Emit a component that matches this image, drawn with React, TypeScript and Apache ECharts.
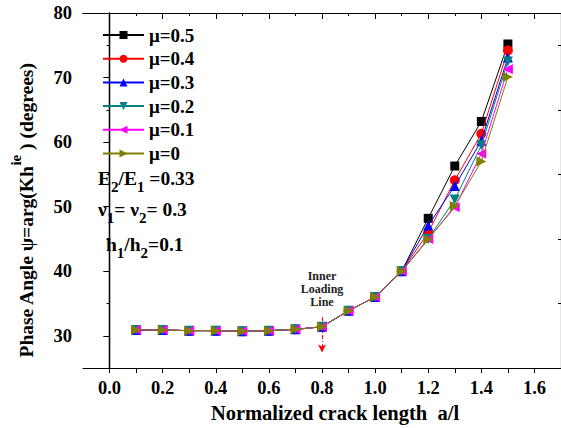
import React, { useEffect, useRef } from "react";
import * as echarts from "echarts";

const xValues = [0.1, 0.2, 0.3, 0.4, 0.5, 0.6, 0.7, 0.8, 0.9, 1.0, 1.1, 1.2, 1.3, 1.4, 1.5];
const mu05 = [30.9, 30.9, 30.8, 30.8, 30.7, 30.8, 31.0, 31.4, 33.9, 36.0, 40.0, 48.2, 56.3, 63.2, 75.2];
const mu04 = [30.9, 30.9, 30.8, 30.8, 30.7, 30.8, 31.0, 31.4, 33.9, 36.0, 40.0, 46.0, 54.1, 61.3, 74.2];
const mu03 = [30.9, 30.9, 30.8, 30.8, 30.7, 30.8, 31.0, 31.4, 33.9, 36.0, 40.0, 47.1, 53.2, 60.2, 73.1];
const mu02 = [30.9, 30.9, 30.8, 30.8, 30.7, 30.8, 31.0, 31.4, 33.9, 36.0, 40.0, 45.0, 51.1, 59.5, 72.5];
const mu01 = [30.9, 30.9, 30.8, 30.8, 30.7, 30.8, 31.0, 31.4, 33.9, 36.0, 40.0, 45.0, 49.9, 58.2, 71.3];
const mu0 = [30.9, 30.9, 30.8, 30.8, 30.7, 30.8, 31.0, 31.4, 33.9, 36.0, 40.0, 44.9, 50.1, 57.0, 70.1];

const seriesNames = ["μ=0.5", "μ=0.4", "μ=0.3", "μ=0.2", "μ=0.1", "μ=0"];
const seriesColors = ["#000000", "#ff0000", "#0000ff", "#008080", "#ff00ff", "#808000"];
const seriesSymbols = [
  "rect",
  "circle",
  "triangle",
  "path://M0,0L10,0L5,10Z",
  "path://M10,0L10,10L0,5Z",
  "path://M0,0L10,5L0,10Z",
];

const xMajorTicks = [0, 0.2, 0.4, 0.6, 0.8, 1.0, 1.2, 1.4, 1.6];
const xMinorTicks = [0.1, 0.3, 0.5, 0.7, 0.9, 1.1, 1.3, 1.5];
const xAllTicks = [0, 0.1, 0.2, 0.3, 0.4, 0.5, 0.6, 0.7, 0.8, 0.9, 1.0, 1.1, 1.2, 1.3, 1.4, 1.5, 1.6];
const yMajorTicks = [30, 40, 50, 60, 70, 80];
const yMinorTicks = [35, 45, 55, 65, 75];

const FONT = "Liberation Serif";

export default function App() {
  const ref = useRef<HTMLDivElement>(null);
  useEffect(() => {
    if (!ref.current) return;
    const chart = echarts.init(ref.current, null, { renderer: "svg" });
    const allData = [mu05, mu04, mu03, mu02, mu01, mu0];
    const series: any[] = allData.map((arr, i) => ({
      name: seriesNames[i],
      type: "line",
      data: arr.map((v, j) => [xValues[j], v]),
      symbol: seriesSymbols[i],
      symbolSize: i === 0 ? 9 : 10,
      color: seriesColors[i],
      lineStyle: { width: 1, color: seriesColors[i] },
      itemStyle: { color: seriesColors[i] },
      xAxisIndex: 0,
      yAxisIndex: 0,
      z: 2 + i,
    }));
    series[5].markLine = {
      silent: true,
      symbol: ["none", "arrow"],
      symbolSize: [6, 8],
      label: { show: false },
      lineStyle: { color: "#ff0000", type: [4, 2, 1, 2], width: 1 },
      data: [[{ coord: [0.8, 32.9] }, { coord: [0.8, 27.4] }]],
    };
    series[5].markPoint = {
      silent: true,
      symbol: "circle",
      symbolSize: 0,
      data: [{ coord: [0.8, 37.3] }],
      label: {
        show: true,
        position: "inside",
        formatter: "Inner\nLoading\nLine",
        fontFamily: FONT,
        fontSize: 12,
        lineHeight: 13,
        color: "#222",
        fontWeight: "bold",
        align: "center",
      },
    };

    const axisLineStyle = { lineStyle: { color: "#000", width: 1.2 } };
    const sub = (size: number) => ({
      fontFamily: FONT, fontSize: size, fontWeight: "bold", fill: "#000", lineHeight: 26,
    });
    const option: any = {
      animation: false,
      backgroundColor: "#ffffff",
      textStyle: { fontFamily: FONT },
      grid: { left: 79, right: -1, top: 13, bottom: 59 },
      legend: {
        orient: "vertical",
        left: 102,
        top: 25.5,
        padding: 0,
        itemWidth: 41,
        itemHeight: 10,
        itemGap: 4.7,
        data: seriesNames,
        textStyle: { fontFamily: FONT, fontSize: 19, fontWeight: "bold", color: "#000", lineHeight: 19 },
      },
      xAxis: [
        {
          type: "value",
          min: -0.1,
          max: 1.7,
          position: "bottom",
          axisLine: axisLineStyle,
          splitLine: { show: false },
          axisTick: { show: true, inside: false, length: 5, customValues: xAllTicks, lineStyle: { color: "#000" } },
          axisLabel: {
            customValues: xMajorTicks,
            formatter: (v: number) => v.toFixed(1),
            fontFamily: FONT,
            fontSize: 18.5,
            fontWeight: "bold",
            color: "#000",
            margin: 10,
          },
          name: "Normalized crack length  a/l",
          nameLocation: "middle",
          nameGap: 32,
          nameTextStyle: { fontFamily: FONT, fontSize: 20.5, fontWeight: "bold", color: "#000", padding: [0, 0, 0, 26] },
        },
        {
          type: "value",
          min: -0.1,
          max: 1.7,
          position: "top",
          axisLine: axisLineStyle,
          splitLine: { show: false },
          axisTick: { show: true, inside: true, length: 6, customValues: xMajorTicks, lineStyle: { color: "#000" } },
          axisLabel: { show: false },
        },
        {
          type: "value",
          min: -0.1,
          max: 1.7,
          position: "top",
          axisLine: axisLineStyle,
          splitLine: { show: false },
          axisTick: { show: true, inside: true, length: 3, customValues: xMinorTicks, lineStyle: { color: "#000" } },
          axisLabel: { show: false },
        },
      ],
      yAxis: [
        {
          type: "value",
          min: 25,
          max: 80,
          position: "left",
          axisLine: { show: true, ...axisLineStyle },
          splitLine: { show: false },
          axisTick: { show: true, inside: false, length: 6, customValues: yMajorTicks, lineStyle: { color: "#000" } },
          axisLabel: {
            customValues: yMajorTicks,
            fontFamily: FONT,
            fontSize: 18.5,
            fontWeight: "bold",
            color: "#000",
            margin: 11,
          },
          name: "{a|Phase Angle ψ=arg(Kh}{s|ie}{a| ) (degrees)}",
          nameLocation: "middle",
          nameGap: 47,
          nameRotate: 90,
          nameTextStyle: {
            padding: [0, 40, 0, 0],
            rich: {
              a: { fontFamily: FONT, fontSize: 19.5, fontWeight: "bold", color: "#000", lineHeight: 28, verticalAlign: "bottom" },
              s: { fontFamily: FONT, fontSize: 15, fontWeight: "bold", color: "#000", lineHeight: 28, verticalAlign: "top" },
            },
          },
        },
        {
          type: "value",
          min: 25,
          max: 80,
          position: "left",
          axisLine: { show: true, ...axisLineStyle },
          splitLine: { show: false },
          axisTick: { show: true, inside: false, length: 3, customValues: yMinorTicks, lineStyle: { color: "#000" } },
          axisLabel: { show: false },
        },
        {
          type: "value",
          min: 25,
          max: 80,
          position: "right",
          axisLine: { show: true, ...axisLineStyle },
          splitLine: { show: false },
          axisTick: { show: true, inside: true, length: 6, customValues: yMajorTicks, lineStyle: { color: "#000" } },
          axisLabel: { show: false },
        },
        {
          type: "value",
          min: 25,
          max: 80,
          position: "right",
          axisLine: { show: true, ...axisLineStyle },
          splitLine: { show: false },
          axisTick: { show: true, inside: true, length: 3, customValues: yMinorTicks, lineStyle: { color: "#000" } },
          axisLabel: { show: false },
        },
      ],
      graphic: [
        {
          type: "text",
          left: 98,
          top: 168,
          style: {
            text: "{a|E}{s|2}{a|/E}{s|1}{a| =0.33}",
            rich: { a: { ...sub(19.5), verticalAlign: "top" }, s: { ...sub(15), verticalAlign: "bottom" } },
          },
        },
        {
          type: "text",
          left: 98,
          top: 199,
          style: {
            text: "{a|ν}{s|1}{a|= ν}{s|2}{a|= 0.3}",
            rich: { a: { ...sub(19.5), verticalAlign: "top" }, s: { ...sub(15), verticalAlign: "bottom" } },
          },
        },
        {
          type: "text",
          left: 106,
          top: 234,
          style: {
            text: "{a|h}{s|1}{a|/h}{s|2}{a|=0.1}",
            rich: { a: { ...sub(19.5), verticalAlign: "top" }, s: { ...sub(15), verticalAlign: "bottom" } },
          },
        },
      ],
      series,
    };
    chart.setOption(option);
    return () => chart.dispose();
  }, []);
  return (
    <div
      ref={ref}
      style={{ position: "absolute", left: 0, top: 0, width: 561, height: 428, background: "#fff" }}
    />
  );
}
